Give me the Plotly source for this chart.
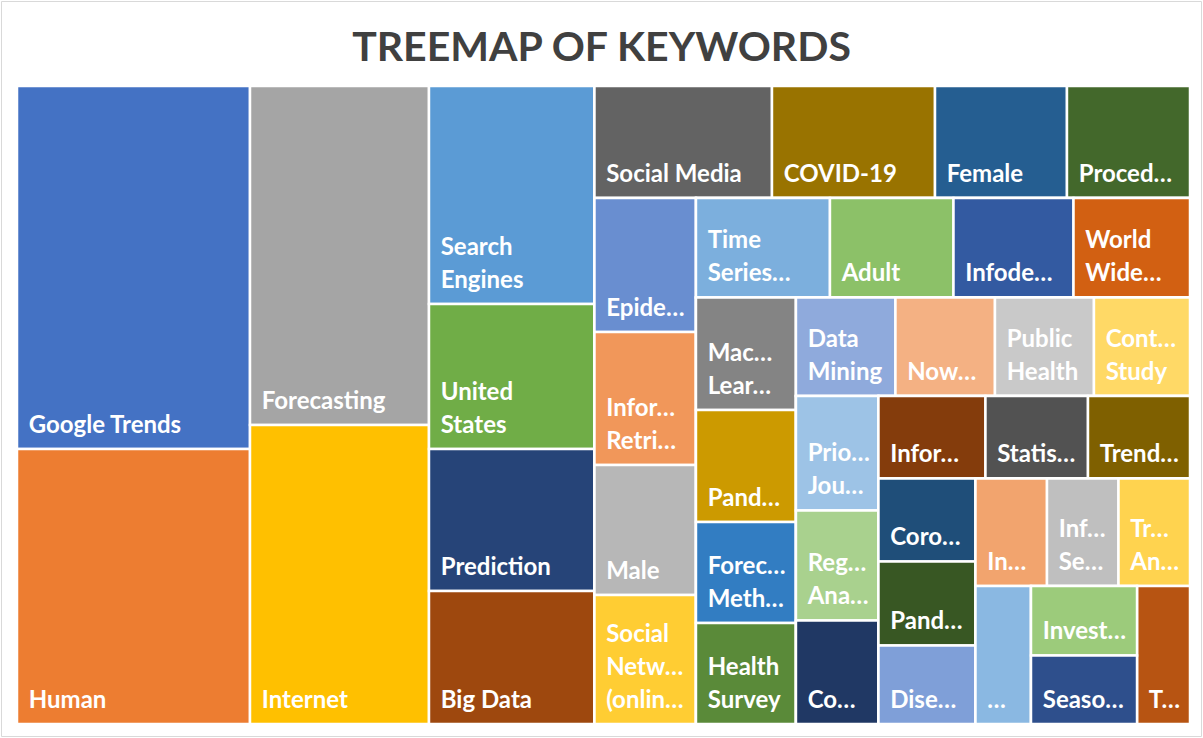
import plotly.graph_objects as go

# ---------------- data ----------------
keywords = [
    "Google Trends", "Human", "Forecasting", "Internet",
    "Search Engines", "United States", "Prediction", "Big Data",
    "Social Media", "COVID-19", "Female", "Procedures",
    "Epidemiology", "Information Retrieval", "Male", "Social Networking (online)",
    "Time Series Analysis", "Adult", "Infodemiology", "World Wide Web",
    "Machine Learning", "Pandemics", "Forecasting Methods", "Health Survey",
    "Data Mining", "Nowcasting", "Public Health", "Controlled Study",
    "Priority Journal", "Regression Analysis", "Co…",
    "Information", "Statistics", "Trends",
    "Coronavirus", "Pandemic", "Disease…",
    "In…", "Information Seeking", "Trend Analysis",
    "…", "Investigation", "Seasons", "T…",
]
shown = [
    "Google Trends", "Human", "Forecasting", "Internet",
    "Search<br>Engines", "United<br>States", "Prediction", "Big Data",
    "Social Media", "COVID-19", "Female", "Proced…",
    "Epide…", "Infor…<br>Retri…", "Male", "Social<br>Netw…<br>(onlin…",
    "Time<br>Series…", "Adult", "Infode…", "World<br>Wide…",
    "Mac…<br>Lear…", "Pand…", "Forec…<br>Meth…", "Health<br>Survey",
    "Data<br>Mining", "Now…", "Public<br>Health", "Cont…<br>Study",
    "Prio…<br>Jou…", "Reg…<br>Ana…", "Co…",
    "Infor…", "Statis…", "Trend…",
    "Coro…", "Pand…", "Dise…",
    "In…", "Inf…<br>Se…", "Tr…<br>An…",
    "…", "Invest…", "Seaso…", "T…",
]
weights = [
    845.8, 640.8, 606.8, 535.2,
    360.8, 240.0, 235.0, 220.1,
    198.8, 182.6, 147.8, 137.8,
    136.0, 135.0, 132.0, 130.9,
    133.3, 122.9, 119.4, 115.9,
    112.5, 112.0, 101.0, 101.0,
    98.0, 98.0, 97.5, 94.6,
    94.5, 90.8, 85.4,
    88.3, 84.6, 84.2,
    80.5, 81.5, 76.2,
    76.9, 76.9, 76.9,
    76.6, 73.7, 72.6, 73.1,
]
colors = [
    "#4472C4", "#ED7D31", "#A5A5A5", "#FFC000",
    "#5B9BD5", "#70AD47", "#264478", "#9E480E",
    "#636363", "#997300", "#255E91", "#43682B",
    "#698ED0", "#F1975A", "#B7B7B7", "#FFCD33",
    "#7CAFDD", "#8CC168", "#335AA1", "#D26012",
    "#848484", "#CC9A00", "#327DC2", "#5A8A39",
    "#8FAADC", "#F4B183", "#C9C9C9", "#FFD966",
    "#9DC3E6", "#A9D18E", "#203864",
    "#843C0C", "#525252", "#7F6000",
    "#1F4E79", "#385723", "#7F9FD8",
    "#F2A46E", "#BFBFBF", "#FFD34F",
    "#8AB8E2", "#9CCB7B", "#2E4F8C", "#B75412",
]

# Excel-style strip nesting (indexes into the lists above)
first_columns = [[0, 1], [2, 3], [4, 5, 6, 7]]
strips = [[8, 9, 10, 11], [12, 13, 14, 15], [16, 17, 18, 19], [20, 21, 22, 23],
          [24, 25, 26, 27], [28, 29, 30], [31, 32, 33], [34, 35, 36], [37, 38, 39]]
last_group = [40, [41, 42], 43]

# ---------------- label styling (Excel-like padding) ----------------
BASE = 8.5          # base font size: one <br> = 1.3 * BASE px
LABEL = 24          # visible label size
LINE_GAP = "<br><br><br>"
PAD_LEFT = "<span style='font-size:12px'>\u00a0\u00a0\u00a0</span>"


def label_html(s):
    lines = s.split("<br>")
    body = LINE_GAP.join(PAD_LEFT + "<span style='font-size:%dpx'>%s</span>" % (LABEL, ln)
                         for ln in lines)
    return body + "<br>\u00a0"


# ---------------- build hierarchy ----------------
ids, parents, labels, values, mcolors, texts, cdata = [], [], [], [], [], [], []


def add_group(gid, parent):
    ids.append(gid); parents.append(parent); labels.append(gid); values.append(0)
    mcolors.append("white"); texts.append(""); cdata.append("")


def add_leaf(i, parent):
    ids.append("k%d" % i); parents.append(parent); labels.append(keywords[i])
    values.append(weights[i]); mcolors.append(colors[i]); texts.append(label_html(shown[i]))
    cdata.append(keywords[i])


add_group("root", "")
for c, col in enumerate(first_columns):
    add_group("C%d" % c, "root")
    for i in col:
        add_leaf(i, "C%d" % c)
add_group("R1", "root")
for k, strip in enumerate(strips, start=1):
    add_group("S%d" % k, "R%d" % k)
    for i in strip:
        add_leaf(i, "S%d" % k)
    add_group("R%d" % (k + 1), "R%d" % k)
last = "R%d" % (len(strips) + 1)
for item in last_group:
    if isinstance(item, list):
        add_group("SL", last)
        for i in item:
            add_leaf(i, "SL")
    else:
        add_leaf(item, last)

W, H = 1203, 738
ML, MR, MT, MB = 17, 13, 86, 14

fig = go.Figure(go.Treemap(
    ids=ids, parents=parents, labels=labels, values=values,
    branchvalues="remainder", sort=False,
    text=texts, texttemplate="%{text}", textposition="bottom left",
    customdata=cdata, hovertemplate="%{customdata}<br>%{value}<extra></extra>",
    textfont=dict(family="Lato", size=BASE, color="white", weight="bold"),
    marker=dict(colors=mcolors, line=dict(color="white", width=2.5),
                pad=dict(t=0, l=0, r=0, b=0), depthfade=False),
    tiling=dict(packing="slice-dice", pad=0),
    pathbar=dict(visible=False),
    root=dict(color="white"),
))

fig.update_layout(
    width=W, height=H,
    margin=dict(l=ML, r=MR, t=MT, b=MB),
    paper_bgcolor="white",
    uniformtext=dict(minsize=BASE, mode="show"),
    title=dict(text="TREEMAP OF KEYWORDS", x=0.5, xanchor="center",
               y=1 - 47 / H, yanchor="middle", yref="container",
               font=dict(family="Lato", size=41, color="#404040", weight="bold")),
)
pw, ph = W - ML - MR, H - MT - MB
fig.add_shape(type="rect", xref="paper", yref="paper",
              x0=-(ML - 1.5) / pw, x1=1 + (MR - 1.5) / pw,
              y0=-(MB - 1.5) / ph, y1=1 + (MT - 1.5) / ph,
              line=dict(color="#D9D9D9", width=1))

fig.write_html("out.html", config={"displayModeBar": False},
               post_script="document.body.style.margin='0';")
